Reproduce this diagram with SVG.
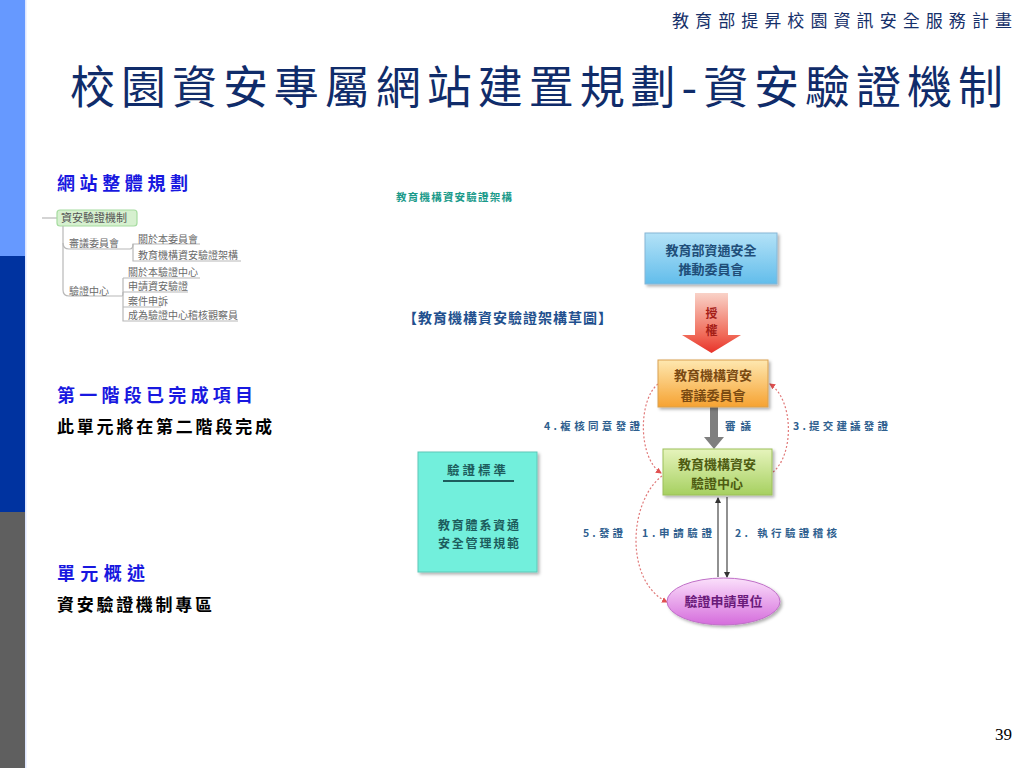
<svg xmlns="http://www.w3.org/2000/svg" width="1024" height="768" viewBox="0 0 1024 768">
<defs>
<style>
.cjk{font-family:"Noto Sans CJK TC","Noto Sans CJK SC",sans-serif;}
.tree{font-size:10px;fill:#6a6a6a;}
.tl{stroke:#b8b8b8;stroke-width:1.2;fill:none;}
.head{font-size:18px;font-weight:bold;fill:#1818e0;}
.body{font-size:17px;font-weight:bold;fill:#000;}
.lbl{font-size:10.5px;font-weight:bold;fill:#2f5f8f;}
.dot{stroke:#e07878;stroke-width:1.2;stroke-dasharray:2 2;fill:none;}
.vl{stroke:#555;stroke-width:1.3;fill:none;}
</style>
<linearGradient id="gBlue" x1="0" y1="0" x2="0" y2="1"><stop offset="0" stop-color="#b4e2f7"/><stop offset="1" stop-color="#62bdeb"/></linearGradient>
<linearGradient id="gRed" x1="0" y1="0" x2="0" y2="1"><stop offset="0" stop-color="#f9d2c8"/><stop offset="0.7" stop-color="#f06a58"/><stop offset="1" stop-color="#e8322a"/></linearGradient>
<linearGradient id="gOrange" x1="0" y1="0" x2="0" y2="1"><stop offset="0" stop-color="#fee8b0"/><stop offset="1" stop-color="#f6a232"/></linearGradient>
<linearGradient id="gGreen" x1="0" y1="0" x2="0" y2="1"><stop offset="0" stop-color="#e6f4bc"/><stop offset="1" stop-color="#a6d060"/></linearGradient>
<linearGradient id="gPink" x1="0" y1="0" x2="0" y2="1"><stop offset="0" stop-color="#fbe0fb"/><stop offset="1" stop-color="#d56cdc"/></linearGradient>
<filter id="sh" x="-10%" y="-10%" width="130%" height="130%"><feDropShadow dx="2" dy="2" stdDeviation="1.5" flood-color="#000" flood-opacity="0.3"/></filter>
<marker id="mRed" markerWidth="6" markerHeight="6" refX="5" refY="3" orient="auto" markerUnits="userSpaceOnUse"><path d="M0,0 L6,3 L0,6 Z" fill="#e05050"/></marker>
<marker id="mDark" markerWidth="6" markerHeight="6" refX="5" refY="3" orient="auto" markerUnits="userSpaceOnUse"><path d="M0,0 L6,3 L0,6 Z" fill="#333"/></marker>
</defs>
<rect width="1024" height="768" fill="#fff"/>
<g id="sidebar">
<rect x="0" y="0" width="25" height="256" fill="#6699ff"/>
<rect x="0" y="256" width="25" height="256" fill="#0033a0"/>
<rect x="0" y="512" width="25" height="256" fill="#5f5f5f"/>
<rect x="25" y="0" width="1.5" height="768" fill="#dde6ff"/>
</g>
<g id="header">
<text class="cjk" x="672" y="27" font-size="17" fill="#16306a" textLength="340" lengthAdjust="spacing">教育部提昇校園資訊安全服務計畫</text>
<text class="cjk" x="70" y="104" font-size="45" fill="#102c6a" textLength="933" lengthAdjust="spacing">校園資安專屬網站建置規劃-資安驗證機制</text>
</g>
<g id="left-text">
<text class="cjk head" x="57" y="190" textLength="131" lengthAdjust="spacing">網站整體規劃</text>
<text class="cjk head" x="57" y="402" textLength="196" lengthAdjust="spacing">第一階段已完成項目</text>
<text class="cjk body" x="57" y="433" textLength="215" lengthAdjust="spacing">此單元將在第二階段完成</text>
<text class="cjk head" x="57" y="580" textLength="88" lengthAdjust="spacing">單元概述</text>
<text class="cjk body" x="57" y="611" textLength="155" lengthAdjust="spacing">資安驗證機制專區</text>
</g>
<g id="tree">
<line class="tl" x1="42" y1="218" x2="57" y2="218"/>
<rect x="57" y="210" width="80" height="16" rx="3" fill="#d6f0cf" stroke="#a6dca0" stroke-width="1.2"/>
<text class="cjk" x="61" y="222" font-size="11" fill="#555">資安驗證機制</text>
<path class="tl" d="M63,226 V243 Q63,249 69,249 H130"/>
<path class="tl" d="M63,243 V290 Q63,296 69,296 H122"/>
<text class="cjk tree" x="69" y="247">審議委員會</text>
<text class="cjk tree" x="69" y="295">驗證中心</text>
<path class="tl" d="M130,249 Q133,249 133,244 H200"/>
<path class="tl" d="M133,244 V261 H241"/>
<text class="cjk tree" x="138" y="243">關於本委員會</text>
<text class="cjk tree" x="138" y="259">教育機構資安驗證架構</text>
<path class="tl" d="M122,296 Q123,296 123,292"/>
<path class="tl" d="M123,278 H200"/>
<path class="tl" d="M123,278 V321 H238"/>
<path class="tl" d="M123,292 H188"/>
<path class="tl" d="M123,307 H161"/>
<text class="cjk tree" x="128" y="276">關於本驗證中心</text>
<text class="cjk tree" x="128" y="290">申請資安驗證</text>
<text class="cjk tree" x="128" y="305">案件申訴</text>
<text class="cjk tree" x="128" y="319">成為驗證中心稽核觀察員</text>
</g>
<g id="diagram-titles">
<text class="cjk" x="396" y="201" font-size="10.5" font-weight="bold" fill="#1a9a8a" textLength="116" lengthAdjust="spacing">教育機構資安驗證架構</text>
<text class="cjk" x="403" y="323" font-size="14" font-weight="bold" fill="#22508e" textLength="209" lengthAdjust="spacing">【教育機構資安驗證架構草圖】</text>
</g>
<g id="connectors">
<path d="M695,293 H728 V335 H741 L711.5,353 L682,335 H695 Z" fill="url(#gRed)"/>
<text class="cjk" x="711.5" y="318" font-size="12" font-weight="bold" fill="#a52018" text-anchor="middle">授</text>
<text class="cjk" x="711.5" y="335" font-size="12" font-weight="bold" fill="#a52018" text-anchor="middle">權</text>
<path d="M710,407 H718 V437 H724 L714,449 L704,437 H710 Z" fill="#7f7f7f"/>
<text class="cjk lbl" x="725" y="430" textLength="26" lengthAdjust="spacing">審議</text>
<path class="dot" d="M658,384 C638,400 638,458 661,473" marker-end="url(#mRed)"/>
<path class="dot" d="M773,472 C794,455 794,400 770,384" marker-end="url(#mRed)"/>
<path class="dot" d="M662,476 C628,502 625,582 667,602" marker-end="url(#mRed)"/>
<line class="vl" x1="718" y1="577" x2="718" y2="498" marker-end="url(#mDark)"/>
<line class="vl" x1="727" y1="497" x2="727" y2="577" marker-end="url(#mDark)"/>
<text class="cjk lbl" x="544" y="430" textLength="96" lengthAdjust="spacing">4.複核同意發證</text>
<text class="cjk lbl" x="793" y="430" textLength="95" lengthAdjust="spacing">3.提交建議發證</text>
<text class="cjk lbl" x="583" y="537" textLength="40" lengthAdjust="spacing">5.發證</text>
<text class="cjk lbl" x="642" y="537" textLength="70" lengthAdjust="spacing">1.申請驗證</text>
<text class="cjk lbl" x="735" y="537" textLength="102" lengthAdjust="spacing">2. 執行驗證稽核</text>
</g>
<g id="node-moe">
<rect x="645" y="233" width="132" height="51" fill="url(#gBlue)" stroke="#86b6d6" filter="url(#sh)"/>
<text class="cjk" x="711" y="255" font-size="13" font-weight="bold" fill="#1f4e79" text-anchor="middle">教育部資通安全</text>
<text class="cjk" x="711" y="274" font-size="13" font-weight="bold" fill="#1f4e79" text-anchor="middle">推動委員會</text>
</g>
<g id="node-review">
<rect x="658" y="360" width="110" height="47" fill="url(#gOrange)" stroke="#d9a050" filter="url(#sh)"/>
<text class="cjk" x="713" y="380" font-size="13" font-weight="bold" fill="#7a4a12" text-anchor="middle">教育機構資安</text>
<text class="cjk" x="713" y="400" font-size="13" font-weight="bold" fill="#7a4a12" text-anchor="middle">審議委員會</text>
</g>
<g id="node-center">
<rect x="663" y="449" width="109" height="46" fill="url(#gGreen)" stroke="#9cbf5a" filter="url(#sh)"/>
<text class="cjk" x="717" y="469" font-size="13" font-weight="bold" fill="#4e5c12" text-anchor="middle">教育機構資安</text>
<text class="cjk" x="717" y="488" font-size="13" font-weight="bold" fill="#4e5c12" text-anchor="middle">驗證中心</text>
</g>
<g id="node-applicant">
<ellipse cx="723.5" cy="601.5" rx="56.5" ry="23.5" fill="url(#gPink)" stroke="#c070c8" filter="url(#sh)"/>
<text class="cjk" x="723.5" y="606" font-size="13" font-weight="bold" fill="#6a1a7a" text-anchor="middle">驗證申請單位</text>
</g>
<g id="node-standard">
<rect x="418" y="452" width="119" height="120" fill="#72efdc" stroke="#5cc8b8" filter="url(#sh)"/>
<text class="cjk" x="478" y="475" font-size="12.5" font-weight="bold" fill="#1d5d5d" text-anchor="middle" letter-spacing="3">驗證標準</text>
<line x1="443" y1="481" x2="514" y2="481" stroke="#1d5d5d" stroke-width="2"/>
<text class="cjk" x="438" y="530" font-size="12" font-weight="bold" fill="#1d5d5d" textLength="81" lengthAdjust="spacing">教育體系資通</text>
<text class="cjk" x="438" y="548" font-size="12" font-weight="bold" fill="#1d5d5d" textLength="81" lengthAdjust="spacing">安全管理規範</text>
</g>
<text x="1012" y="740" font-family="Liberation Serif, serif" font-size="17" fill="#000" text-anchor="end">39</text>
</svg>
